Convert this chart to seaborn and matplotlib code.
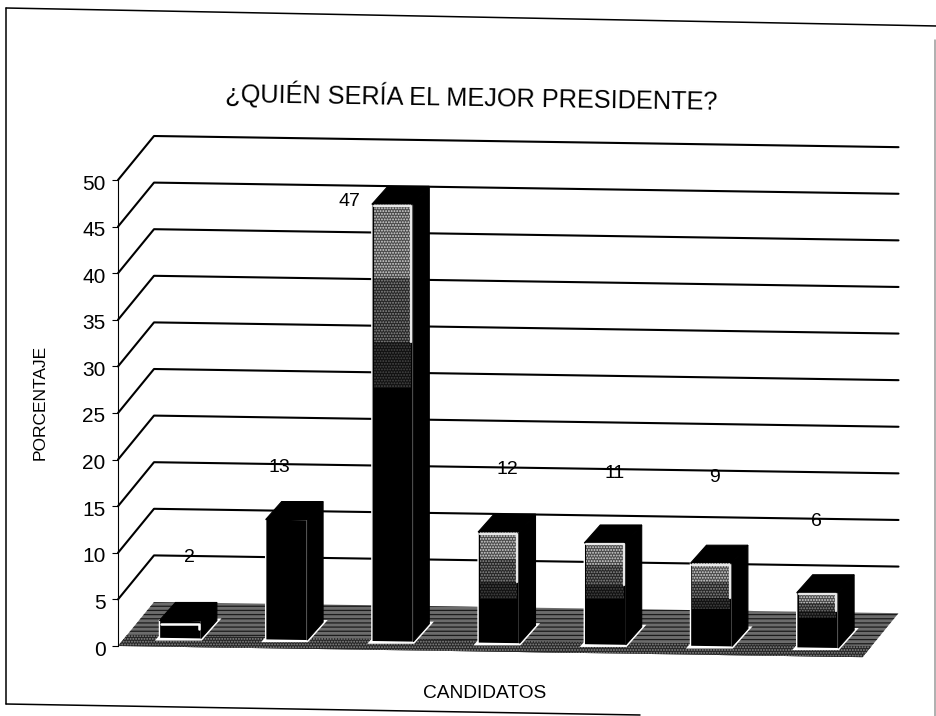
"""
Barras pseudo-3D: ¿quién sería el mejor presidente?
Copia de un gráfico escaneado, con la leve inclinación del papel.
"""
import matplotlib
matplotlib.use("Agg")
import matplotlib.pyplot as plt
import seaborn as sns
from matplotlib.lines import Line2D
from matplotlib.patches import Polygon, Rectangle
from matplotlib.transforms import Affine2D, IdentityTransform, ScaledTranslation

# DATOS
CANDIDATOS = ["A", "B", "C", "D", "E", "F", "G"]
PORCENTAJES = [2, 13, 47, 12, 11, 9, 6]
MARCAS_Y = [0, 5, 10, 15, 20, 25, 30, 35, 40, 45, 50]
TITULO = "¿QUIÉN SERÍA EL MEJOR PRESIDENTE?"
ETIQUETA_X = "CANDIDATOS"
ETIQUETA_Y = "PORCENTAJE"

# ESTILO (parte superior de cada barra con trama, fracción de la altura)
TRAMA = [0.0, 0.0, 0.42, 0.6, 0.55, 0.55, 0.45]
ZONAS = [(0.0, 0.4, "#4a4a4a", "#d8d8d8"), (0.4, 0.75, "#262626", "#8c8c8c"), (0.75, 1.0, "#111111", "#484848")]
POS_ETIQUETAS = [(189, 558), (279, 468), (349, 202), (507, 470), (615, 473), (714, 477), (816, 521)]
W, H = 937, 716
INCLINACION = 0.015
X0, Y_CERO, Y_50 = 118, 646, 180

sns.set_theme(style="white")
plt.rcParams["font.family"] = ["Liberation Sans", "DejaVu Sans"]
plt.rcParams["hatch.linewidth"] = 0.9

fig = plt.figure(figsize=(W / 100, H / 100), dpi=100)
ax = fig.add_axes([X0 / W, 1 - Y_CERO / H, 744.5 / W, (Y_CERO - Y_50) / H])
ax.patch.set_alpha(0)

sns.barplot(x=CANDIDATOS, y=PORCENTAJES, color="black", width=0.39, saturation=1, ax=ax, zorder=5)
ax.set_xlim(-0.51, 6.5)
ax.set_ylim(0, 50)
ax.set_yticks(MARCAS_Y)
ax.set_xticks([])
ax.set_xlabel("")
ax.set_ylabel("")
ax.tick_params(axis="y", left=True, length=4, width=0.8, color="black", labelsize=15,
               labelcolor="black", pad=5)
for nombre in ["top", "right", "bottom"]:
    ax.spines[nombre].set_visible(False)
ax.spines["left"].set_linewidth(0.8)
ax.spines["left"].set_color("black")
# los números quedan un poco más abajo que la marca
for etiqueta in ax.get_yticklabels():
    etiqueta.set_transform(etiqueta.get_transform() + ScaledTranslation(0, -2 / 100, fig.dpi_scale_trans))
fig.canvas.draw()

# la hoja está algo torcida: cizalla vertical en píxeles
cizalla = Affine2D.from_values(1, -INCLINACION, 0, 1, 0, INCLINACION * X0)
base = ax.transData + cizalla


def plano(dx=0, dy=0):
    return base + Affine2D().translate(dx, dy)


# paredes: líneas de cada marca
FONDO_X, FONDO_Y = 36, 44
for v in MARCAS_Y[1:]:
    xy = base.transform([[-0.51, v], [6.5, v]])
    ax.add_line(Line2D(
        [xy[0][0], xy[0][0] + FONDO_X, xy[1][0] + FONDO_X],
        [xy[0][1], xy[0][1] + FONDO_Y, xy[1][1] + FONDO_Y],
        color="black", lw=1.5, transform=IdentityTransform(), clip_on=False, zorder=1,
    ))

# piso con trama, más oscuro hacia el frente
esquinas = base.transform([[-0.51, 0], [6.5, 0]])
piso = [esquinas[0], esquinas[1], esquinas[1] + [FONDO_X, FONDO_Y], esquinas[0] + [FONDO_X, FONDO_Y]]
ax.add_patch(Polygon(piso, closed=True, facecolor="#6c6c6c", edgecolor="#1c1c1c", hatch="----",
                     lw=0, transform=IdentityTransform(), clip_on=False, zorder=2))
franja = [esquinas[0], esquinas[1], esquinas[1] + [9, 11], esquinas[0] + [9, 11]]
ax.add_patch(Polygon(franja, closed=True, facecolor="#262626", edgecolor="#8a8a8a", hatch="......",
                     lw=0, transform=IdentityTransform(), clip_on=False, zorder=2.5))

# barras: frente (seaborn) más lados, tapa y trama
DX_FRENTE, DY_FRENTE = 8, 8
DX_BARRA, DY_BARRA = 16, 18
for barra, trama in zip(ax.patches[:len(PORCENTAJES)], TRAMA):
    x, w, h = barra.get_x(), barra.get_width(), barra.get_height()
    barra.set_transform(plano(DX_FRENTE, DY_FRENTE))
    barra.set_clip_on(False)
    a, b = plano(DX_FRENTE, DY_FRENTE).transform([[x, 0], [x + w, h]])
    # huella blanca sobre el piso
    huella = [[a[0], a[1]], [b[0], a[1]], [b[0] + DX_BARRA, a[1] + DY_BARRA], [a[0] + DX_BARRA, a[1] + DY_BARRA]]
    ax.add_patch(Polygon(huella, closed=True, facecolor="white", edgecolor="white", lw=3,
                         transform=IdentityTransform(), clip_on=False, zorder=4))
    # lado derecho y tapa
    lado = [[b[0], a[1]], [b[0] + DX_BARRA, a[1] + DY_BARRA], [b[0] + DX_BARRA, b[1] + DY_BARRA], [b[0], b[1]]]
    tapa = [[a[0], b[1]], [b[0], b[1]], [b[0] + DX_BARRA, b[1] + DY_BARRA], [a[0] + DX_BARRA, b[1] + DY_BARRA]]
    for caras in (lado, tapa):
        ax.add_patch(Polygon(caras, closed=True, facecolor="black", edgecolor="black", lw=0.8,
                             transform=IdentityTransform(), clip_on=False, zorder=6))
    # trama de la parte alta del frente, que se apaga hacia abajo
    if trama > 0:
        alto = trama * (b[1] - a[1])
        for ini, fin, fondo, punto in ZONAS:
            ax.add_patch(Rectangle((a[0] + 2, b[1] - fin * alto), b[0] - a[0] - 4, (fin - ini) * alto,
                                   facecolor=fondo, edgecolor=punto, hatch="......", lw=0,
                                   transform=IdentityTransform(), clip_on=False, zorder=7))
        ax.add_line(Line2D([a[0] + 2, b[0] - 2, b[0] - 2], [b[1] - 1.5, b[1] - 1.5, b[1] - 0.75 * alto],
                           color="#e8e8e8", lw=1.6, transform=IdentityTransform(), clip_on=False, zorder=8))
    elif h < 5:
        ax.add_line(Line2D([a[0] + 2, b[0] - 2, b[0] - 2], [b[1] - 4, b[1] - 4, b[1] - 9], color="white", lw=1.8,
                           transform=IdentityTransform(), clip_on=False, zorder=8))

# etiquetas de valor
for valor, (px, py) in zip(PORCENTAJES, POS_ETIQUETAS):
    fig.text(px / W, 1 - py / H, str(valor), ha="center", va="center", fontsize=14, color="black", zorder=10)

# textos
fig.text(471 / W, 1 - 97 / H, TITULO, ha="center", va="center", fontsize=18.2, color="black", rotation=-0.9)
fig.text(485 / W, 1 - 693 / H, ETIQUETA_X, ha="center", va="center", fontsize=13.8, color="black")
fig.text(40 / W, 1 - 402 / H, ETIQUETA_Y, ha="center", va="center", fontsize=12.5, color="black", rotation=90)

# marco de la hoja
MARCO = [((6, 8), (937, 26), "black"), ((6, 8), (6, 704), "black"), ((6, 704), (640, 715), "black"),
         ((935.5, 40), (935.5, 716), "#9a9a9a")]
for (x1, y1), (x2, y2), tinta in MARCO:
    fig.add_artist(Line2D([x1 / W, x2 / W], [1 - y1 / H, 1 - y2 / H], color=tinta, lw=1.1))

fig.savefig("out.png", dpi=100, facecolor="white")
